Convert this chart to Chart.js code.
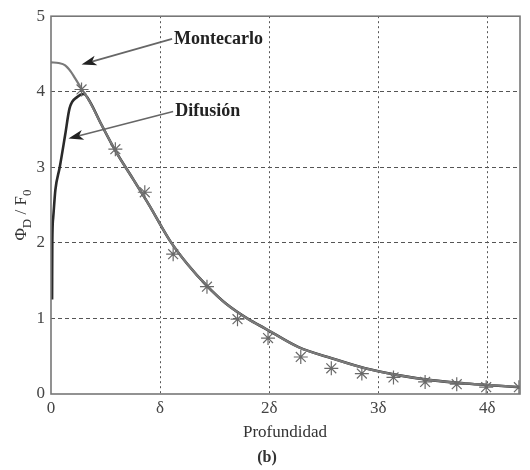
<!DOCTYPE html>
<html>
<head>
<meta charset="utf-8">
<script src="https://cdn.jsdelivr.net/npm/chart.js@4"></script>
<style>
  html, body { margin: 0; padding: 0; background: #fff; }
  #wrap { width: 530px; height: 470px; }
</style>
</head>
<body>
<div id="wrap"><canvas id="chart" width="530" height="470"></canvas></div>
<script>
// depth in units of delta
const xTicks = [0, 1, 2, 3, 4];
const xTickLabels = ['0', 'δ', '2δ', '3δ', '4δ'];
const yTicks = [0, 1, 2, 3, 4, 5];

const mcX = [0, 0.07, 0.13, 0.18, 0.22, 0.28, 0.35, 0.45, 0.59, 0.75, 0.9, 1.09, 1.25, 1.43, 1.6, 1.81, 1.96, 2.27, 2.58, 2.88, 3.18, 3.5, 3.8, 4.1, 4.3];
const mcY = [4.39, 4.38, 4.35, 4.27, 4.18, 4.04, 3.88, 3.6, 3.22, 2.85, 2.5, 2.03, 1.72, 1.43, 1.2, 0.99, 0.87, 0.62, 0.47, 0.34, 0.25, 0.18, 0.14, 0.11, 0.09];

const difX = [0.01, 0.012, 0.02, 0.04, 0.08, 0.13, 0.17, 0.24, 0.3, 0.36, 0.45, 0.59, 0.75, 0.9, 1.09, 1.25, 1.43, 1.6, 1.81, 1.96, 2.27, 2.58, 2.88, 3.18, 3.5, 3.8, 4.1, 4.3];
const difY = [1.25, 2.0, 2.33, 2.7, 3.0, 3.43, 3.78, 3.93, 3.97, 3.86, 3.6, 3.22, 2.85, 2.5, 2.03, 1.72, 1.43, 1.2, 0.99, 0.87, 0.62, 0.47, 0.34, 0.25, 0.18, 0.14, 0.11, 0.09];

// asterisk markers
const starX = [0.28, 0.59, 0.86, 1.12, 1.43, 1.71, 1.99, 2.29, 2.57, 2.85, 3.14, 3.43, 3.72, 3.99, 4.29];
const starY = [4.03, 3.24, 2.67, 1.85, 1.42, 0.99, 0.74, 0.49, 0.34, 0.27, 0.22, 0.16, 0.13, 0.09, 0.09];

const pts = (xs, ys) => xs.map((x, i) => ({ x: x, y: ys[i] }));

const serif = '"Liberation Serif", "DejaVu Serif", serif';

// annotation arrows, in data units
const notes = [
  { text: 'Montecarlo', from: [1.11, 4.70], to: [0.28, 4.36] },
  { text: 'Difusión', from: [1.12, 3.74], to: [0.16, 3.38] }
];

const decor = {
  id: 'decor',
  afterDatasetsDraw(chart) {
    const c = chart.ctx, xs = chart.scales.x, ys = chart.scales.y, a = chart.chartArea;
    c.save();
    // frame
    c.strokeStyle = '#777';
    c.lineWidth = 1.6;
    c.strokeRect(a.left, a.top, a.right - a.left, a.bottom - a.top);

    // arrows and labels
    notes.forEach(n => {
      const x1 = xs.getPixelForValue(n.from[0]), y1 = ys.getPixelForValue(n.from[1]);
      const x2 = xs.getPixelForValue(n.to[0]), y2 = ys.getPixelForValue(n.to[1]);
      const ang = Math.atan2(y2 - y1, x2 - x1);
      const cs = Math.cos(ang), sn = Math.sin(ang);
      c.strokeStyle = '#666';
      c.lineWidth = 1.6;
      c.beginPath();
      c.moveTo(x1, y1);
      c.lineTo(x2 - 8 * cs, y2 - 8 * sn);
      c.stroke();
      c.fillStyle = '#222';
      c.beginPath();
      c.moveTo(x2, y2);
      c.lineTo(x2 - 15 * cs + 5 * sn, y2 - 15 * sn - 5 * cs);
      c.lineTo(x2 - 11 * cs, y2 - 11 * sn);
      c.lineTo(x2 - 15 * cs - 5 * sn, y2 - 15 * sn + 5 * cs);
      c.closePath();
      c.fill();
      c.fillStyle = '#222';
      c.font = 'bold 18px ' + serif;
      c.textAlign = 'left';
      c.textBaseline = 'middle';
      c.fillText(n.text, x1 + 2, y1);
    });

    // y axis title with subscripts
    c.translate(20, (a.top + a.bottom) / 2 + 10);
    c.rotate(-Math.PI / 2);
    c.fillStyle = '#333';
    c.textBaseline = 'alphabetic';
    c.textAlign = 'left';
    const parts = [['Φ', 17, 0], ['D', 13, 5], [' / F', 17, 0], ['0', 13, 5]];
    let w = 0;
    parts.forEach(p => { c.font = p[1] + 'px ' + serif; w += c.measureText(p[0]).width; });
    let px = -w / 2;
    parts.forEach(p => {
      c.font = p[1] + 'px ' + serif;
      c.fillText(p[0], px, 6 + p[2]);
      px += c.measureText(p[0]).width;
    });
    c.restore();

    // x axis title and caption
    c.save();
    c.fillStyle = '#333';
    c.textAlign = 'center';
    c.textBaseline = 'middle';
    c.font = '17px ' + serif;
    c.fillText('Profundidad', 285, 433);
    c.font = 'bold 16px ' + serif;
    c.fillText('(b)', 267, 458);
    c.restore();
  }
};

new Chart(document.getElementById('chart').getContext('2d'), {
  type: 'scatter',
  data: {
    datasets: [
      {
        label: 'Difusión',
        data: pts(difX, difY),
        showLine: true,
        borderColor: '#2a2a2a',
        borderWidth: 2.6,
        pointRadius: 0,
        cubicInterpolationMode: 'monotone',
        order: 2
      },
      {
        label: 'Montecarlo',
        data: pts(mcX, mcY),
        showLine: true,
        borderColor: '#7a7a7a',
        borderWidth: 2.2,
        pointRadius: 0,
        cubicInterpolationMode: 'monotone',
        order: 1
      },
      {
        label: 'puntos',
        data: pts(starX, starY),
        showLine: false,
        pointStyle: 'star',
        pointRadius: 7,
        borderColor: '#6a6a6a',
        borderWidth: 1.2,
        backgroundColor: 'transparent',
        order: 0
      }
    ]
  },
  options: {
    responsive: false,
    animation: false,
    layout: { padding: { top: 15, right: 10, left: 0, bottom: 0 } },
    plugins: { legend: { display: false }, tooltip: { enabled: false } },
    scales: {
      x: {
        type: 'linear',
        min: 0,
        max: 4.3,
        afterBuildTicks: s => { s.ticks = xTicks.map(v => ({ value: v })); },
        afterFit: s => { s.height = 76; },
        ticks: {
          callback: (v) => xTickLabels[xTicks.indexOf(v)],
          color: '#444',
          font: { family: serif, size: 17 },
          padding: 4,
          maxRotation: 0
        },
        grid: {
          drawTicks: false,
          color: ctx => (ctx.tick && ctx.tick.value > 0) ? '#555' : 'transparent',
          lineWidth: 1
        },
        border: { display: false, dash: [2, 3] }
      },
      y: {
        min: 0,
        max: 5,
        afterBuildTicks: s => { s.ticks = yTicks.map(v => ({ value: v })); },
        afterFit: s => { s.width = 51; },
        ticks: {
          color: '#444',
          font: { family: serif, size: 17 },
          padding: 6
        },
        grid: {
          drawTicks: false,
          color: ctx => (ctx.tick && ctx.tick.value > 0 && ctx.tick.value < 5) ? '#555' : 'transparent',
          lineWidth: 1
        },
        border: { display: false, dash: [4, 3] }
      }
    }
  },
  plugins: [decor]
});
</script>
</body>
</html>
